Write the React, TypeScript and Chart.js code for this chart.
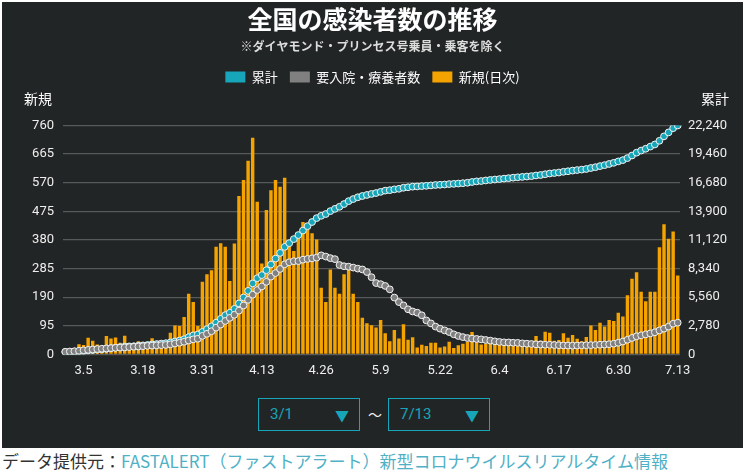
import React, { useEffect, useRef } from 'react';
import { Chart, registerables } from 'chart.js';

Chart.register(...registerables);

// ---- categories (3/1 .. 7/13) ----
const MONTHS: [number, number][] = [[3, 31], [4, 30], [5, 31], [6, 30], [7, 13]];
const DATES: string[] = MONTHS.flatMap(([m, n]) => Array.from({ length: n }, (_, d) => `${m}.${d + 1}`));
const TICK_DATES = ['3.5', '3.18', '3.31', '4.13', '4.26', '5.9', '5.22', '6.4', '6.17', '6.30', '7.13'];

// ---- series ----
const NEW_CASES = [
  14, 14, 10, 34, 31, 55, 45, 33, 25, 61, 53, 56, 39, 62, 21, 15, 44, 39, 35, 54,
  41, 43, 38, 72, 96, 94, 124, 201, 174, 94, 241,
  266, 279, 357, 369, 357, 244, 368, 526, 579, 643, 719, 507, 302, 479, 545, 579, 556, 586, 360,
  343, 392, 439, 426, 402, 381, 221, 174, 282, 221, 201,
  266, 282, 201, 174, 122, 103, 97, 89, 114, 70, 44, 81, 53, 100, 49, 57, 23, 32, 28, 39,
  39, 23, 26, 42, 21, 30, 35, 42, 74, 61, 33,
  36, 51, 42, 39, 46, 46, 47, 38, 37, 35, 41, 61, 46, 75, 72, 45, 48, 70, 55, 64,
  52, 44, 58, 96, 81, 105, 93, 114, 111, 138,
  126, 196, 251, 273, 208, 176, 208, 208, 356, 432, 384, 408, 262,
];

const TOTAL = [
  240, 254, 264, 298, 329, 384, 429, 462, 487, 548, 601, 657, 696, 758, 779, 794, 838, 877, 912, 966,
  1007, 1050, 1088, 1160, 1256, 1350, 1474, 1675, 1849, 1943, 2184,
  2450, 2729, 3086, 3455, 3812, 4056, 4424, 4950, 5529, 6172, 6891, 7398, 7700, 8179, 8724, 9303, 9859, 10445, 10805,
  11198, 11590, 12029, 12455, 12857, 13238, 13459, 13633, 13915, 14136, 14337,
  14603, 14885, 15086, 15260, 15382, 15485, 15582, 15671, 15785, 15905, 15949, 16030, 16083, 16183, 16232, 16289, 16312, 16344, 16372,
  16411, 16450, 16473, 16499, 16541, 16562, 16592, 16627, 16669, 16743, 16804, 16837,
  16893, 16944, 16986, 17025, 17071, 17117, 17164, 17202, 17239, 17274, 17315, 17376, 17422, 17497, 17569, 17614, 17662, 17732, 17787, 17851,
  17903, 17947, 18005, 18101, 18182, 18287, 18380, 18494, 18605, 18743,
  18869, 19065, 19316, 19589, 19797, 19973, 20181, 20389, 20745, 21177, 21561, 21969, 22231,
];

const HOSPITALIZED = [
  250, 280, 310, 350, 400, 440, 480, 520, 550, 580, 610, 640, 660, 680, 710, 740, 770, 800, 830, 860,
  880, 900, 920, 980, 1060, 1130, 1230, 1350, 1460, 1520, 1800,
  2000, 2250, 2600, 2900, 3250, 3550, 3850, 4250, 4750, 5300, 5800, 6250, 6600, 7050, 7550, 7900, 8300, 8750, 8950,
  9050, 9060, 9200, 9270, 9330, 9400, 9620, 9500, 9350, 9250, 8680,
  8560, 8520, 8430, 8330, 8250, 8000, 7500, 6930, 6820, 6650, 6320, 5520, 5080, 4760, 4380, 4170, 4050, 3800, 3300,
  3010, 2700, 2500, 2330, 2170, 1950, 1790, 1680, 1590, 1530, 1500, 1460,
  1400, 1340, 1270, 1210, 1170, 1160, 1130, 1120, 1070, 1040, 1010, 980, 960, 940, 930, 910, 890, 870, 860, 850,
  860, 880, 890, 900, 920, 940, 960, 990, 1040, 1130,
  1250, 1420, 1600, 1760, 1850, 1950, 2040, 2150, 2330, 2500, 2700, 2980, 3080,
];

const LEFT_MAX = 760;
const LEFT_STEP = 95;
const RIGHT_MAX = 22240;
const RIGHT_STEP = 2780;

const SERIES_NAMES = ['累計', '要入院・療養者数', '新規(日次)'];
const TEAL = '#17a6b9';
const GRAY = '#808080';
const ORANGE = '#f4a300';
const BG = '#222525';
const JP = "'Noto Sans CJK JP', 'Noto Sans', sans-serif";
const NUM = "Roboto, 'Noto Sans CJK JP', sans-serif";

const LEGEND_EXTRA = 32;

const spacerPlugin = {
  id: 'legendSpacer',
  beforeInit(chart: any) {
    const legend = chart.legend;
    if (!legend) return;
    const orig = legend.fit;
    legend.fit = function () {
      orig.call(this);
      this.height += LEGEND_EXTRA;
    };
  },
};

const axisNamePlugin = {
  id: 'axisNames',
  afterDraw(chart: any) {
    const { ctx, chartArea } = chart;
    ctx.save();
    ctx.fillStyle = '#ffffff';
    ctx.font = `14px ${JP}`;
    ctx.textBaseline = 'middle';
    const y = chartArea.top - 27;
    ctx.textAlign = 'center';
    ctx.fillText('新規', 36, y);
    ctx.fillText('累計', 713, y);
    ctx.restore();
  },
};

export default function App() {
  const ref = useRef<HTMLCanvasElement | null>(null);

  useEffect(() => {
    document.body.style.margin = '0';
    const canvas = ref.current;
    if (!canvas) return;
    const chart = new Chart(canvas, {
      type: 'bar',
      data: {
        labels: DATES,
        datasets: [
          {
            type: 'line',
            label: SERIES_NAMES[0],
            data: TOTAL,
            yAxisID: 'yRight',
            borderColor: TEAL,
            backgroundColor: TEAL,
            borderWidth: 1,
            pointRadius: 3.4,
            pointHoverRadius: 3.4,
            pointBackgroundColor: TEAL,
            pointBorderColor: '#f2f2f2',
            pointBorderWidth: 1,
            order: 2,
          } as any,
          {
            type: 'line',
            label: SERIES_NAMES[1],
            data: HOSPITALIZED,
            yAxisID: 'yRight',
            borderColor: GRAY,
            backgroundColor: GRAY,
            borderWidth: 1,
            pointRadius: 3.4,
            pointHoverRadius: 3.4,
            pointBackgroundColor: GRAY,
            pointBorderColor: '#f2f2f2',
            pointBorderWidth: 1,
            order: 1,
          } as any,
          {
            type: 'bar',
            label: SERIES_NAMES[2],
            data: NEW_CASES,
            yAxisID: 'yLeft',
            backgroundColor: ORANGE,
            borderColor: '#d48c00',
            borderWidth: 0,
            categoryPercentage: 1,
            barPercentage: 0.75,
            order: 3,
          } as any,
        ],
      },
      options: {
        responsive: true,
        maintainAspectRatio: false,
        animation: false,
        devicePixelRatio: 1,
        layout: { padding: { left: 0, right: 0, top: 0, bottom: 7 } },
        plugins: {
          title: {
            display: true,
            text: '全国の感染者数の推移',
            color: '#ffffff',
            font: { family: JP, size: 25, weight: 'bold' },
            padding: { top: 2, bottom: 5 },
          },
          subtitle: {
            display: true,
            text: '※ダイヤモンド・プリンセス号乗員・乗客を除く',
            color: '#dddddd',
            font: { family: JP, size: 12, weight: 'bold' },
            padding: { top: 0, bottom: 5 },
          },
          legend: {
            display: true,
            position: 'top',
            labels: {
              color: '#ffffff',
              font: { family: JP, size: 13 },
              boxWidth: 20,
              boxHeight: 11,
              padding: 12,
              generateLabels: () =>
                [TEAL, GRAY, ORANGE].map((c, i) => ({
                  text: SERIES_NAMES[i],
                  fillStyle: c,
                  strokeStyle: c,
                  lineWidth: 0,
                  hidden: false,
                  datasetIndex: i,
                  fontColor: '#ffffff',
                })),
            },
          },
          tooltip: { enabled: false },
        },
        scales: {
          x: {
            type: 'category',
            offset: true,
            grid: { display: false },
            border: { display: false },
            ticks: {
              color: '#eeeeee',
              font: { family: NUM, size: 13 },
              maxRotation: 0,
              minRotation: 0,
              autoSkip: false,
              padding: 1,
              callback: function (this: any, val: any) {
                const lab = this.getLabelForValue(val);
                return TICK_DATES.includes(lab) ? lab : '';
              },
            },
          },
          yLeft: {
            type: 'linear',
            position: 'left',
            min: 0,
            max: LEFT_MAX,
            grid: { color: '#575a5a', lineWidth: 1.2, drawTicks: false },
            border: { display: false },
            ticks: {
              stepSize: LEFT_STEP,
              color: '#eeeeee',
              font: { family: NUM, size: 13 },
              padding: 9,
            },
            afterFit: (scale: any) => {
              scale.width = 61;
            },
          },
          yRight: {
            type: 'linear',
            position: 'right',
            min: 0,
            max: RIGHT_MAX,
            grid: { drawOnChartArea: false, drawTicks: false },
            border: { display: false },
            ticks: {
              stepSize: RIGHT_STEP,
              color: '#eeeeee',
              font: { family: NUM, size: 13 },
              padding: 8,
              callback: (v: any) => Number(v).toLocaleString('en-US'),
            },
            afterFit: (scale: any) => {
              scale.width = 63;
            },
          },
        },
      },
      plugins: [spacerPlugin, axisNamePlugin],
    } as any);
    return () => chart.destroy();
  }, []);

  const boxStyle: React.CSSProperties = {
    position: 'absolute',
    top: 396,
    width: 102,
    height: 33,
    border: `1px solid ${TEAL}`,
    color: TEAL,
    fontFamily: NUM,
    fontSize: 15,
    boxSizing: 'border-box',
  };

  return (
    <div style={{ position: 'fixed', left: 0, top: 0, width: 745, height: 472, background: '#ffffff', overflow: 'hidden' }}>
      <div style={{ position: 'absolute', left: 2, top: 2, width: 741, height: 446, background: BG }}>
        <div style={{ position: 'absolute', left: 0, top: 0, width: 741, height: 385 }}>
          <canvas ref={ref} />
        </div>
        <div style={{ ...boxStyle, left: 256 }}>
          <span style={{ position: 'absolute', left: 11, top: 6 }}>3/1</span>
          <span style={{ position: 'absolute', right: 10, top: 6, fontSize: 14 }}>▼</span>
        </div>
        <div style={{ position: 'absolute', left: 366, top: 402, color: '#eeeeee', fontFamily: JP, fontSize: 14 }}>～</div>
        <div style={{ ...boxStyle, left: 386 }}>
          <span style={{ position: 'absolute', left: 11, top: 6 }}>7/13</span>
          <span style={{ position: 'absolute', right: 10, top: 6, fontSize: 14 }}>▼</span>
        </div>
      </div>
      <div style={{ position: 'absolute', left: 2, top: 450, fontFamily: JP, fontSize: 17, lineHeight: '22px', whiteSpace: 'nowrap' }}>
        <span style={{ color: '#333333' }}>データ提供元：</span>
        <span style={{ color: '#4fb0c6' }}>FASTALERT（ファストアラート）新型コロナウイルスリアルタイム情報</span>
      </div>
    </div>
  );
}
